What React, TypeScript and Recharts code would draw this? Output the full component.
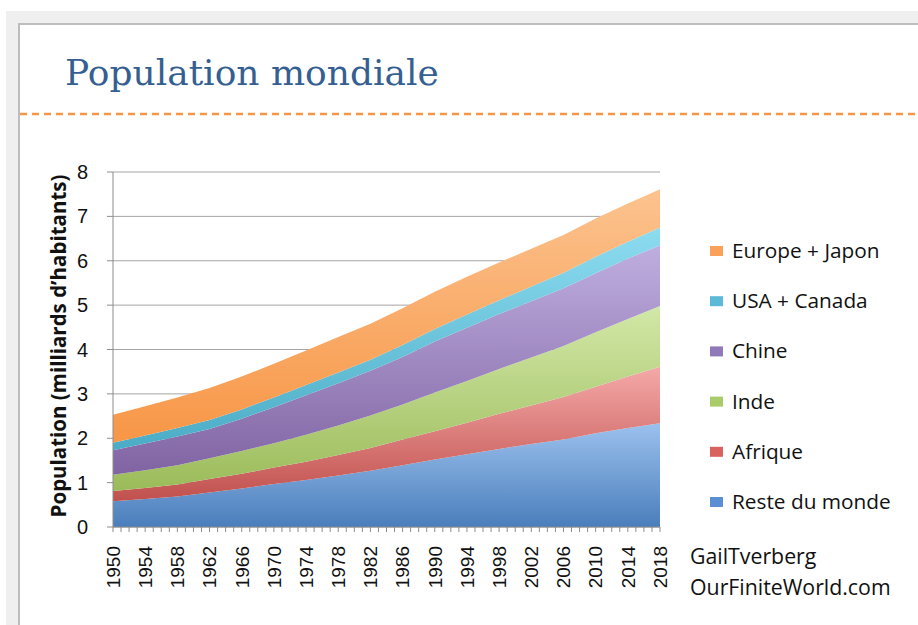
import { AreaChart, Area, XAxis, YAxis, CartesianGrid } from "recharts";

// population par région, milliards d'habitants, tous les 4 ans
const years = [1950, 1954, 1958, 1962, 1966, 1970, 1974, 1978, 1982, 1986, 1990, 1994, 1998, 2002, 2006, 2010, 2014, 2018];
const reste = [0.58, 0.63, 0.69, 0.78, 0.87, 0.97, 1.06, 1.16, 1.27, 1.39, 1.52, 1.64, 1.76, 1.87, 1.97, 2.11, 2.23, 2.34];
const afrique = [0.23, 0.25, 0.27, 0.3, 0.33, 0.37, 0.41, 0.46, 0.51, 0.58, 0.64, 0.71, 0.79, 0.87, 0.96, 1.05, 1.16, 1.27];
const inde = [0.37, 0.4, 0.43, 0.47, 0.51, 0.55, 0.61, 0.67, 0.73, 0.79, 0.87, 0.94, 1.01, 1.08, 1.15, 1.23, 1.3, 1.37];
const chine = [0.55, 0.6, 0.65, 0.66, 0.73, 0.81, 0.89, 0.95, 1.01, 1.07, 1.15, 1.2, 1.24, 1.27, 1.3, 1.33, 1.36, 1.37];
const usaCanada = [0.17, 0.18, 0.19, 0.2, 0.21, 0.22, 0.23, 0.24, 0.25, 0.27, 0.28, 0.3, 0.31, 0.33, 0.35, 0.37, 0.38, 0.4];
const europeJapon = [0.63, 0.66, 0.69, 0.72, 0.74, 0.76, 0.78, 0.8, 0.81, 0.83, 0.84, 0.85, 0.85, 0.85, 0.85, 0.86, 0.86, 0.86];

const yTicks = [0, 1, 2, 3, 4, 5, 6, 7, 8];
// petite graduation pour chaque année
const yearTicks = Array.from({ length: 2018 - 1950 + 1 }, (_, i) => 1950 + i);

// ordre d'empilement : du bas vers le haut
const series = [
  { key: "reste", name: "Reste du monde", dark: "#4a7ebb", light: "#9cc1ee", swatch: "#5b8fd3" },
  { key: "afrique", name: "Afrique", dark: "#c0504d", light: "#f4a9a8", swatch: "#d9625f" },
  { key: "inde", name: "Inde", dark: "#9bbb59", light: "#d2e8a8", swatch: "#a9cc6a" },
  { key: "chine", name: "Chine", dark: "#8064a2", light: "#bfaee0", swatch: "#9079b8" },
  { key: "usaCanada", name: "USA + Canada", dark: "#4bacc6", light: "#8ddcf0", swatch: "#5cbad8" },
  { key: "europeJapon", name: "Europe + Japon", dark: "#f79646", light: "#fcc38f", swatch: "#f9a05a" },
];

const data = years.map((year, i) => ({
  year,
  reste: reste[i],
  afrique: afrique[i],
  inde: inde[i],
  chine: chine[i],
  usaCanada: usaCanada[i],
  europeJapon: europeJapon[i],
}));

const sans = "'Liberation Sans', Arial, sans-serif";
const open = "'Open Sans', sans-serif";

function YearTick(props: any) {
  const { x, y, payload } = props;
  if (!years.includes(payload.value)) return <g />;
  return (
    <text
      x={0}
      y={0}
      transform={`translate(${x},${y + 12}) rotate(-90)`}
      textAnchor="end"
      dy="0.36em"
      fontSize={19}
      fontFamily={sans}
      fill="#111"
    >
      {payload.value}
    </text>
  );
}

export default function App() {
  const legend = [...series].reverse();
  return (
    <div style={{ position: "absolute", left: 0, top: 0, width: 918, height: 625, background: "#fff", overflow: "hidden" }}>
      <svg width={918} height={625} style={{ position: "absolute", left: 0, top: 0 }}>
        <rect x={6} y={11} width={912} height={614} fill="#efefef" />
        <rect x={19} y={24} width={940} height={640} fill="#fff" stroke="#bdbdbd" strokeWidth={2} />
        <text x={65} y={85} fontFamily="'DejaVu Serif', serif" fontSize={36} fill="#365f91">
          Population mondiale
        </text>
        <line x1={20} y1={114} x2={918} y2={114} stroke="#f79646" strokeWidth={2.5} strokeDasharray="7 5" />
        <text
          transform="translate(66,346) rotate(-90)"
          textAnchor="middle"
          fontFamily={open}
          fontWeight={700}
          fontSize={20.5}
          fill="#111"
        >
          Population (milliards d’habitants)
        </text>
        {legend.map((s, i) => (
          <g key={s.key}>
            <rect x={710} y={246 + i * 50.2} width={13} height={10} fill={s.swatch} />
            <text x={732} y={258 + i * 50.2} fontFamily={open} fontSize={20.8} fill="#111">
              {s.name}
            </text>
          </g>
        ))}
        <text x={690} y={564} fontFamily={open} fontSize={21.3} fill="#111">
          GailTverberg
        </text>
        <text x={690} y={595} fontFamily={open} fontSize={21.3} fill="#111">
          OurFiniteWorld.com
        </text>
      </svg>
      <div style={{ position: "absolute", left: 0, top: 0 }}>
        <AreaChart
          width={918}
          height={625}
          data={data}
          margin={{ top: 172, right: 258, bottom: 28, left: 63 }}
        >
          <defs>
            {series.map((s) => (
              <linearGradient key={s.key} id={`g-${s.key}`} x1="0" y1="0" x2="0" y2="1">
                <stop offset="0%" stopColor={s.light} />
                <stop offset="100%" stopColor={s.dark} />
              </linearGradient>
            ))}
          </defs>
          <CartesianGrid vertical={false} stroke="#a5a5a5" />
          <XAxis
            dataKey="year"
            type="number"
            domain={[1950, 2018]}
            ticks={yearTicks}
            interval={0}
            height={70}
            tick={<YearTick />}
            tickSize={5}
            axisLine={{ stroke: "#8c8c8c" }}
            tickLine={{ stroke: "#8c8c8c" }}
          />
          <YAxis
            type="number"
            domain={[0, 8]}
            ticks={yTicks}
            width={50}
            tickSize={6}
            tickMargin={19}
            axisLine={{ stroke: "#8c8c8c" }}
            tickLine={{ stroke: "#8c8c8c" }}
            tick={{ fontSize: 20, fontFamily: sans, fill: "#111" }}
          />
          {series.map((s) => (
            <Area
              key={s.key}
              type="linear"
              dataKey={s.key}
              name={s.name}
              stackId="pop"
              stroke="none"
              fill={`url(#g-${s.key})`}
              fillOpacity={1}
              isAnimationActive={false}
            />
          ))}
        </AreaChart>
      </div>
    </div>
  );
}
